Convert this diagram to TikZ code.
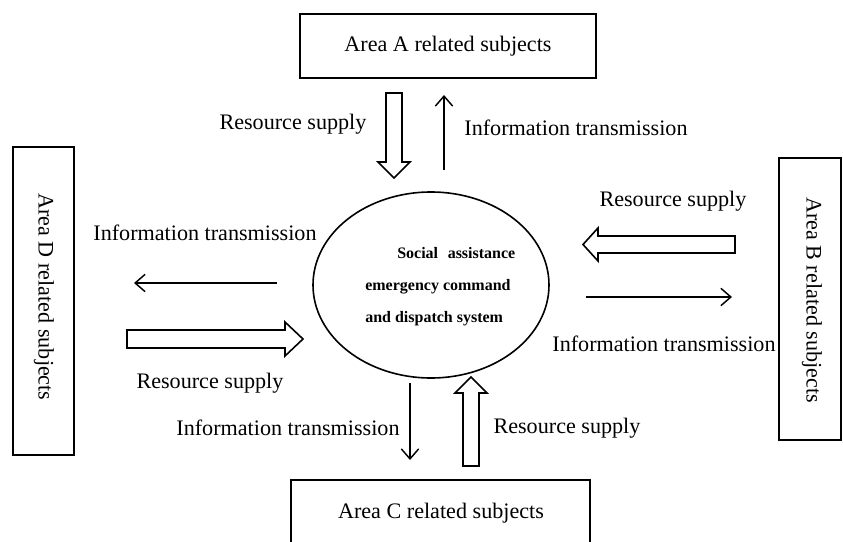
\documentclass[tikz,border=0pt]{standalone}
\usepackage{fontspec}
\setmainfont{Liberation Serif}
\usetikzlibrary{arrows.meta}
\begin{document}
\begin{tikzpicture}[x=0.75pt,y=-0.75pt,
  box/.style={draw,line width=1.2pt,inner sep=0pt},
  lbl/.style={font=\fontsize{16.6}{18}\selectfont,inner sep=0pt},
  sys/.style={font=\bfseries\fontsize{12}{13}\selectfont,inner sep=0pt,anchor=west},
  thin/.style={line width=1.1pt,-{Straight Barb[length=7.5pt,width=13pt,line width=1.1pt]}},
  hollow/.style={draw,line width=1.2pt,line join=miter}]
\useasboundingbox (0,0) rectangle (843,542);
% boxes
\node[box,minimum width=296*0.75pt,minimum height=64*0.75pt] (A) at (448,46) {};
\node[lbl] (At) at (A.center) {Area A related subjects};
\node[box,minimum width=299*0.75pt,minimum height=80*0.75pt] (C) at (440.5,520) {};
\node[lbl] (Ct) at (441,513) {Area C related subjects};
\node[box,minimum width=62*0.75pt,minimum height=282*0.75pt] (B) at (810,299) {};
\node[lbl,rotate=-90] (Bt) at (812,300) {Area B related subjects};
\node[box,minimum width=61*0.75pt,minimum height=308*0.75pt] (D) at (43.5,301) {};
\node[lbl,rotate=-90] (Dt) at (44,297) {Area D related subjects};
% central ellipse
\draw[line width=1.2pt] (431,285) ellipse [x radius=118, y radius=93];
\node[inner sep=0pt] (S) at (431,285) {};
\node[sys] (s1) at (397,253) {Social\hspace{0.6em}assistance};
\node[sys] (s2) at (365,287) {emergency command};
\node[sys] (s3) at (365,319) {and dispatch system};
% top
\draw[hollow] (386,93) -- (402,93) -- (402,162) -- (410,162) -- (394,178) -- (378,162) -- (386,162) -- cycle;
\coordinate (t1) at (444,170); \coordinate (t2) at (444,95);
\draw[thin] (t1) -- (t2);
\node[lbl] (l1) at (293,124) {Resource supply};
\node[lbl] (l2) at (576,128) {Information transmission};
% right
\draw[hollow] (735,236) -- (735,253) -- (598,253) -- (598,261) -- (583,244.5) -- (598,228) -- (598,236) -- cycle;
\coordinate (r1) at (586,297); \coordinate (r2) at (732,297);
\draw[thin] (r1) -- (r2);
\node[lbl] (l3) at (673,201) {Resource supply};
\node[lbl] (l4) at (664,344) {Information transmission};
% left
\coordinate (e1) at (277,283); \coordinate (e2) at (134,283);
\draw[thin] (e1) -- (e2);
\draw[hollow] (127,330) -- (285,330) -- (285,322) -- (303,339) -- (285,356) -- (285,348) -- (127,348) -- cycle;
\node[lbl] (l5) at (205,233) {Information transmission};
\node[lbl] (l6) at (210,383) {Resource supply};
% bottom
\coordinate (b1) at (410,383); \coordinate (b2) at (410,460);
\draw[thin] (b1) -- (b2);
\draw[hollow] (463,466) -- (479,466) -- (479,393) -- (487,393) -- (471,377) -- (455,393) -- (463,393) -- cycle;
\node[lbl] (l7) at (288,428) {Information transmission};
\node[lbl] (l8) at (567,428) {Resource supply};
\end{tikzpicture}
\end{document}
